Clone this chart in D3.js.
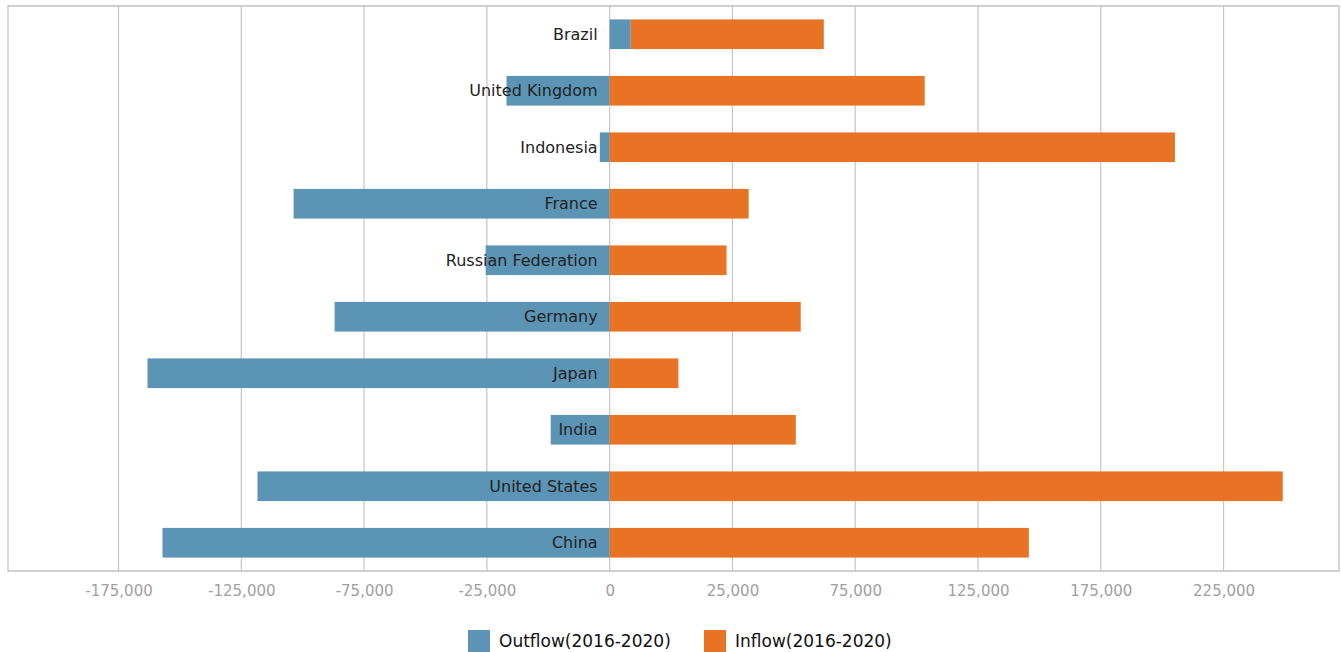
<!DOCTYPE html>
<html>
<head>
<meta charset="utf-8">
<script src="https://cdn.jsdelivr.net/npm/d3@7"></script>
<style>
  body { margin: 0; background: #fff; }
  svg { display: block; font-family: "DejaVu Sans", sans-serif; }
</style>
</head>
<body>
<svg id="chart" width="1341" height="652"></svg>
<script>
"use strict";

// countries, top to bottom
const countries = ["Brazil", "United Kingdom", "Indonesia", "France", "Russian Federation",
    "Germany", "Japan", "India", "United States", "China"];
// values
const outflow = [4300, -21000, -2000, -103700, -25500, -87000, -163200, -12000, -118400, -157100];
const inflow = [57900, 103300, 205200, 31600, 23800, 52800, 14000, 50800, 249100, 145700];
const tickValues = [-175000, -125000, -75000, -25000, 0, 25000, 75000, 125000, 175000, 225000];
const seriesNames = ["Outflow(2016-2020)", "Inflow(2016-2020)"];
const seriesKeys = ["outflow", "inflow"];
const colors = ["#5b94b4", "#e87324"];

let svg = d3.select("#chart");
let plotLeft = 8, plotRight = 1339, plotTop = 6, plotBottom = 571;

// the axis steps 25,000 either side of zero, then 50,000 per gridline
let xDomain = [-220000, -25000, 0, 25000, 272000];
let units = xDomain.map(v => Math.abs(v) <= 25000 ? v / 25000 : Math.sign(v) * (1 + (Math.abs(v) - 25000) / 50000));
let step = (plotRight - plotLeft) / (units[units.length - 1] - units[0]);
let x = d3.scaleLinear().domain(xDomain).range(units.map(u => plotLeft + (u - units[0]) * step));
let y = d3.scaleBand().domain(countries).range([plotTop, plotBottom]).paddingInner(0.475).paddingOuter(0.2375);

let rows = countries.map((c, i) => ({country: c, outflow: outflow[i], inflow: inflow[i]}));
let stacked = d3.stack().keys(seriesKeys).offset(d3.stackOffsetDiverging)(rows);

// frame and gridlines
svg.append("g").selectAll("line").data(tickValues).enter().append("line")
    .attr("x1", d => x(d)).attr("x2", d => x(d))
    .attr("y1", plotTop).attr("y2", plotBottom)
    .attr("stroke", "#c6c6c6").attr("stroke-width", 1.2);
svg.append("path")
    .attr("d", `M${plotLeft},${plotBottom}V${plotTop}H${plotRight}V${plotBottom}Z`)
    .attr("fill", "none").attr("stroke", "#c0c0c0").attr("stroke-width", 1.3);

// bars
svg.append("g").selectAll("g").data(stacked).enter().append("g")
    .attr("fill", (d, i) => colors[i])
    .selectAll("rect").data(d => d).enter().append("rect")
    .attr("x", d => x(Math.min(d[0], d[1])))
    .attr("width", d => Math.abs(x(d[1]) - x(d[0])))
    .attr("y", d => y(d.data.country))
    .attr("height", y.bandwidth());

// category labels, sitting on the bars left of zero
svg.append("g").selectAll("text").data(countries).enter().append("text")
    .attr("x", x(0) - 12)
    .attr("y", d => y(d) + y.bandwidth() / 2)
    .attr("dy", "0.35em")
    .attr("text-anchor", "end")
    .attr("font-size", 16)
    .attr("fill", "#222")
    .text(d => d);

// x axis labels (plain hyphen for the minus sign)
let fmt = d3.format(",");
let xAxis = d3.axisBottom(x).tickValues(tickValues).tickSize(0).tickPadding(14)
    .tickFormat(d => fmt(d).replace("\u2212", "-"));
let ax = svg.append("g").attr("transform", `translate(0,${plotBottom})`).call(xAxis);
ax.select(".domain").remove();
ax.selectAll("text").attr("font-size", 15).attr("fill", "#a0a0a0").attr("font-family", "DejaVu Sans, sans-serif");

// legend
let legendX = [468, 704];
let legend = svg.append("g").selectAll("g").data(seriesNames).enter().append("g")
    .attr("transform", (d, i) => `translate(${legendX[i]},630)`);
legend.append("rect").attr("width", 22).attr("height", 22).attr("fill", (d, i) => colors[i]);
legend.append("text").attr("x", 31).attr("y", 11).attr("dy", "0.35em")
    .attr("font-size", 17).attr("fill", "#111").text(d => d);
</script>
</body>
</html>
